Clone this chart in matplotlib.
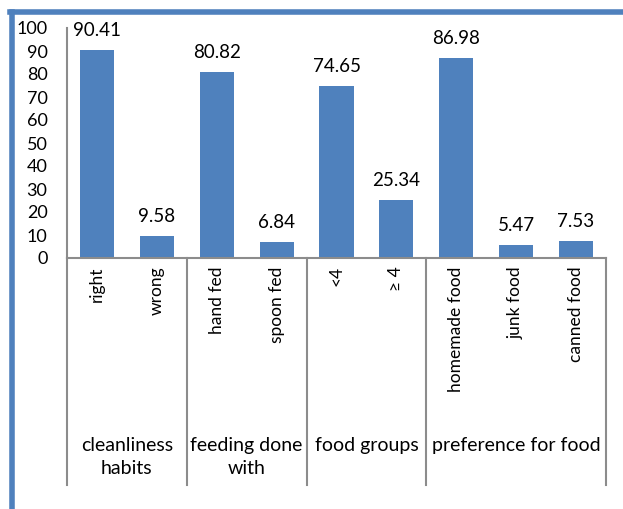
import matplotlib.pyplot as plt
from matplotlib.lines import Line2D
import matplotlib.transforms as mtransforms

# data
categories = ['right', 'wrong', 'hand fed', 'spoon fed', '<4', '≥ 4',
              'homemade food', 'junk food', 'canned food']
values = [90.41, 9.58, 80.82, 6.84, 74.65, 25.34, 86.98, 5.47, 7.53]
groups = ['cleanliness\nhabits', 'feeding done\nwith', 'food groups', 'preference for food']
group_sizes = [2, 2, 2, 3]

plt.rcParams['font.family'] = ['Lato', 'DejaVu Sans']
blue = '#4F81BD'
grey = '#8C8C8C'

fig = plt.figure(figsize=(6.23, 5.09), dpi=100)
ax = fig.add_axes([67 / 623, 1 - 258 / 509, 539 / 623, 230 / 509])

x = list(range(len(categories)))
ax.bar(x, values, width=0.57, color=blue)
for xi, v in zip(x, values):
    ax.annotate(f'{v:.2f}', (xi, v), xytext=(0, 8), textcoords='offset points',
                ha='center', va='bottom', fontsize=13.5)

ax.set_xlim(-0.5, len(categories) - 0.5)
ax.set_ylim(0, 100)
ax.set_yticks(range(0, 101, 10))
ax.tick_params(axis='y', length=0, labelsize=13, pad=14)
ax.set_xticks(x)
ax.set_xticklabels(categories, rotation=90, va='top', fontsize=12.5)
ax.tick_params(axis='x', length=0, pad=6)

for s in ['top', 'right']:
    ax.spines[s].set_visible(False)
for s in ['left', 'bottom']:
    ax.spines[s].set_color(grey)
    ax.spines[s].set_linewidth(1.5)

# group separators and labels below the axis
trans = mtransforms.blended_transform_factory(ax.transData, ax.transAxes)
pos = -0.5
edges = [pos]
for n in group_sizes:
    pos += n
    edges.append(pos)
for e in edges:
    ax.add_line(Line2D([e, e], [0, -0.987], transform=trans, color=grey,
                       lw=1.5, clip_on=False))
for i, g in enumerate(groups):
    mid = (edges[i] + edges[i + 1]) / 2
    ax.text(mid, -0.78, g, transform=trans, ha='center', va='top',
            fontsize=14, linespacing=1.4)

# blue frame on the top and left edges of the figure
fig.add_artist(Line2D([12 / 623, 12 / 623], [0, 1 - 12 / 509], color=blue, lw=4,
                      transform=fig.transFigure))
fig.add_artist(Line2D([10 / 623, 1], [1 - 12 / 509, 1 - 12 / 509], color=blue, lw=4,
                      transform=fig.transFigure))

fig.savefig('out.png', dpi=100)
